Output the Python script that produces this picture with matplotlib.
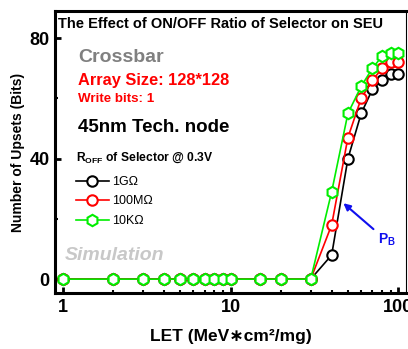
import matplotlib
matplotlib.use("Agg")
from matplotlib import pyplot as plt
from matplotlib.ticker import FixedLocator, NullFormatter

plt.rcParams["font.family"] = ["Liberation Sans", "DejaVu Sans"]
plt.rcParams["font.weight"] = "bold"
plt.rcParams["mathtext.default"] = "regular"

# LET values (MeV*cm^2/mg)
let = [1, 2, 3, 4, 5, 6, 7, 8, 9, 10, 15, 20, 30, 40, 50, 60, 70, 80, 90, 100]
zeros = [0] * 13
upsets_1g = zeros + [8, 40, 55, 63, 66, 68, 68]
upsets_100m = zeros + [18, 47, 60, 66, 70, 72, 72]
upsets_10k = zeros + [29, 55, 64, 70, 74, 75, 75]

series = [
    ("1G\u03a9", upsets_1g, "black", "o", 7.5),
    ("100M\u03a9", upsets_100m, "red", "o", 7.5),
    ("10K\u03a9", upsets_10k, "#00ee00", "h", 8.2),
]

W, H = 408, 349
fig = plt.figure(figsize=(W / 100, H / 100), dpi=100)
ax = fig.add_axes([55 / W, 1 - 293 / H, 351 / W, 282 / H])

handles = []
for label, ys, color, marker, ms in series:
    h, = ax.plot(let, ys, color=color, lw=1.2, marker=marker, ms=ms,
                 mfc="white", mec=color, mew=1.5, label=label)
    handles.append(h)

ax.set_xscale("log")
ax.set_xlim(0.896, 111)
ax.set_ylim(-4.6, 89)

ax.set_xticks([1, 10, 100])
ax.set_xticklabels(["1", "10", "100"])
ax.xaxis.set_minor_locator(FixedLocator([m * d for d in (1, 10) for m in range(2, 10)]))
ax.xaxis.set_minor_formatter(NullFormatter())
ax.set_yticks([0, 40, 80])
ax.yaxis.set_minor_locator(FixedLocator([20, 60]))
ax.tick_params(axis="both", which="major", direction="in", length=4, width=2,
               labelsize=13, pad=4)
ax.tick_params(axis="both", which="minor", direction="in", length=2.5, width=1.5)
ax.tick_params(axis="x", which="both", top=False)

for side in ("left", "bottom", "top"):
    ax.spines[side].set_linewidth(2.2)
ax.spines["right"].set_linewidth(0.8)

ax.set_xlabel("LET (MeV\u2217cm\u00b2/mg)", fontsize=12.5, fontweight="bold", labelpad=10)
ax.set_ylabel("Number of Upsets (Bits)", fontsize=10, fontweight="bold", labelpad=3)

# annotation text blocks
fig.text(58 / W, 1 - 24 / H, "The Effect of ON/OFF Ratio of Selector on SEU",
         fontsize=10.5, fontweight="bold", va="center")
fig.text(78 / W, 1 - 57 / H, "Crossbar", fontsize=14, color="#808080",
         fontweight="bold", va="center")
fig.text(78 / W, 1 - 80 / H, "Array Size: 128*128", fontsize=11.8, color="red",
         fontweight="bold", va="center")
fig.text(78 / W, 1 - 99 / H, "Write bits: 1", fontsize=9.6, color="red",
         fontweight="bold", va="center")
fig.text(78 / W, 1 - 128 / H, "45nm Tech. node", fontsize=13.5,
         fontweight="bold", va="center")
fig.text(76 / W, 1 - 158 / H, "R$_{\\mathregular{OFF}}$ of Selector @ 0.3V",
         fontsize=8.7, fontweight="bold", va="center")
fig.text(65 / W, 1 - 255 / H, "Simulation", fontsize=14, color="#c8c8c8",
         fontweight="bold", style="italic", va="center")

leg = ax.legend(handles=handles, loc="upper left", bbox_to_anchor=(21 / 351, 1 - 165 / 282),
                frameon=False, fontsize=9, handlelength=2.6, handletextpad=0.3,
                labelspacing=0.6, borderpad=0, borderaxespad=0)
for t in leg.get_texts():
    t.set_fontweight("normal")

# P_B marker pointing at the rising edge
ax.annotate("", xy=(47, 25.2), xytext=(71, 16.6),
            arrowprops=dict(arrowstyle="-|>", color="#1010ee", lw=1.5,
                            mutation_scale=10, shrinkA=0, shrinkB=0))
ax.text(76, 13, "P$_{\\mathregular{B}}$", color="#1010ee", fontsize=10,
        fontweight="bold", va="center")

fig.savefig("out.png", dpi=100)
